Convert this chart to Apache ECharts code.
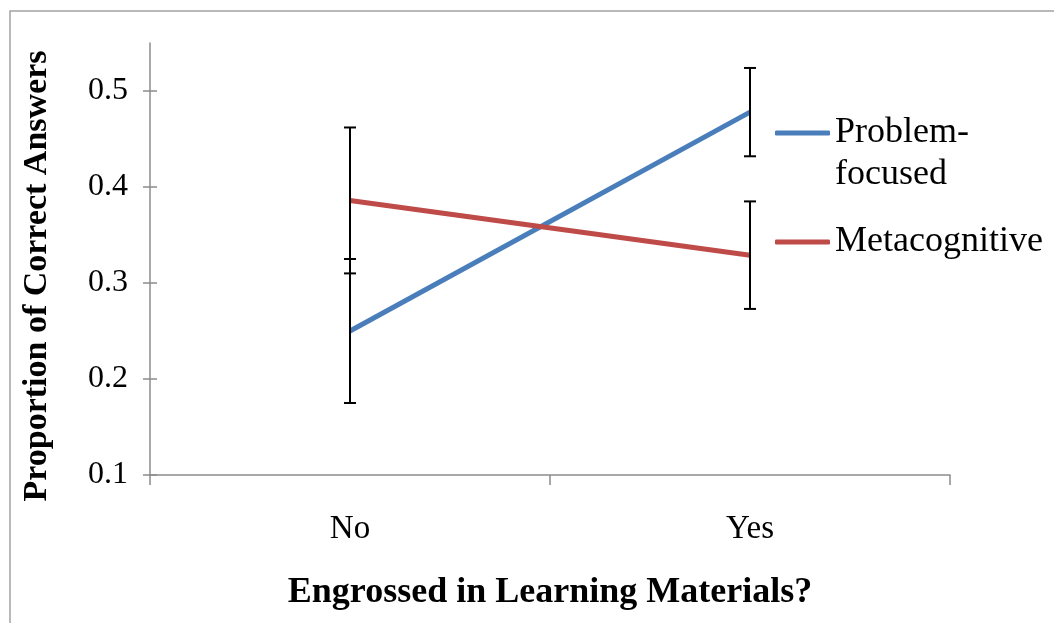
<!DOCTYPE html>
<html>
<head>
<meta charset="utf-8">
<script src="https://cdn.jsdelivr.net/npm/echarts@6/dist/echarts.min.js"></script>
<style>
  html, body { margin: 0; padding: 0; background: #ffffff; }
  #chart { width: 1054px; height: 623px; }
</style>
</head>
<body>
<div id="chart"></div>
<script>
// Categories and group means with their error-bar half-widths
const categories = ['No', 'Yes'];
const problemFocused = [0.25, 0.478];
const problemFocusedErr = [0.075, 0.046];
const metacognitive = [0.386, 0.329];
const metacognitiveErr = [0.076, 0.056];
const yTicks = [0.1, 0.2, 0.3, 0.4, 0.5];

const FONT = '"Liberation Serif", "Times New Roman", serif';
const AXIS_COLOR = '#8c8c8c';

// Build [categoryIndex, low, high] triples for the error bars
function errorData(values, errs) {
  return values.map((v, i) => [i, v - errs[i], v + errs[i]]);
}

function renderErrorBar(params, api) {
  const x = api.value(0);
  const lo = api.coord([x, api.value(1)]);
  const hi = api.coord([x, api.value(2)]);
  const half = 6;
  const style = { stroke: '#000000', lineWidth: 2 };
  return {
    type: 'group',
    children: [
      { type: 'line', shape: { x1: hi[0], y1: hi[1], x2: lo[0], y2: lo[1] }, style },
      { type: 'line', shape: { x1: hi[0] - half, y1: hi[1], x2: hi[0] + half, y2: hi[1] }, style },
      { type: 'line', shape: { x1: lo[0] - half, y1: lo[1], x2: lo[0] + half, y2: lo[1] }, style }
    ]
  };
}

const chart = echarts.init(document.getElementById('chart'), null, { renderer: 'canvas' });

chart.setOption({
  animation: false,
  backgroundColor: '#ffffff',
  grid: { left: 150, right: 104, top: 43, bottom: 148, containLabel: false },
  legend: {
    orient: 'vertical',
    left: 770,
    top: 65,
    itemWidth: 55,
    itemHeight: 5,
    itemGap: 25,
    icon: 'roundRect',
    data: ['Problem-focused', 'Metacognitive'],
    formatter: name => name === 'Problem-focused' ? ' \nProblem-\nfocused' : name,
    textStyle: { fontFamily: FONT, fontSize: 36, color: '#000000', lineHeight: 42 }
  },
  xAxis: {
    type: 'category',
    data: categories,
    boundaryGap: true,
    axisLine: { lineStyle: { color: AXIS_COLOR, width: 1.5 } },
    axisTick: { show: true, length: 10, lineStyle: { color: AXIS_COLOR, width: 1.5 } },
    axisLabel: { fontFamily: FONT, fontSize: 33, color: '#000000', margin: 38 },
    name: 'Engrossed in Learning Materials?',
    nameLocation: 'middle',
    nameGap: 100,
    nameTextStyle: { fontFamily: FONT, fontSize: 36, fontWeight: 'bold', color: '#000000' }
  },
  yAxis: [
    {
      type: 'value',
      min: 0.1,
      max: 0.55,
      interval: 0.1,
      splitLine: { show: false },
      axisLine: { show: true, lineStyle: { color: AXIS_COLOR, width: 1.5 } },
      axisTick: { show: true, length: 7, customValues: yTicks, lineStyle: { color: AXIS_COLOR, width: 1.5 } },
      axisLabel: {
        fontFamily: FONT, fontSize: 32, color: '#000000', margin: 22,
        customValues: yTicks,
        formatter: v => v.toFixed(1)
      }
    },
    {
      // Inner half of the crossing tick marks on the value axis
      type: 'value',
      position: 'left',
      min: 0.1,
      max: 0.55,
      interval: 0.1,
      splitLine: { show: false },
      axisLine: { show: false },
      axisLabel: { show: false },
      axisTick: { show: true, inside: true, length: 7, customValues: yTicks, lineStyle: { color: AXIS_COLOR, width: 1.5 } }
    }
  ],
  graphic: [
    {
      type: 'text',
      x: 37,
      y: 276,
      rotation: Math.PI / 2,
      style: {
        text: 'Proportion of Correct Answers',
        fontFamily: FONT, fontSize: 34, fontWeight: 'bold', fill: '#000000',
        align: 'center', verticalAlign: 'middle'
      }
    },
    {
      type: 'rect',
      shape: { x: 10, y: 11, width: 1100, height: 700 },
      style: { fill: null, stroke: '#a3a3a3', lineWidth: 1.5 },
      silent: true,
      z: 100
    }
  ],
  series: [
    {
      name: 'Problem-focused',
      type: 'line',
      data: problemFocused,
      symbol: 'none',
      lineStyle: { color: '#4a7ebb', width: 5 },
      itemStyle: { color: '#4a7ebb' },
      z: 2
    },
    {
      name: 'Metacognitive',
      type: 'line',
      data: metacognitive,
      symbol: 'none',
      lineStyle: { color: '#be4b48', width: 5 },
      itemStyle: { color: '#be4b48' },
      z: 2
    },
    {
      name: 'Problem-focused error',
      type: 'custom',
      renderItem: renderErrorBar,
      data: errorData(problemFocused, problemFocusedErr),
      encode: { x: 0, y: [1, 2] },
      z: 3
    },
    {
      name: 'Metacognitive error',
      type: 'custom',
      renderItem: renderErrorBar,
      data: errorData(metacognitive, metacognitiveErr),
      encode: { x: 0, y: [1, 2] },
      z: 3
    }
  ]
});
</script>
</body>
</html>
